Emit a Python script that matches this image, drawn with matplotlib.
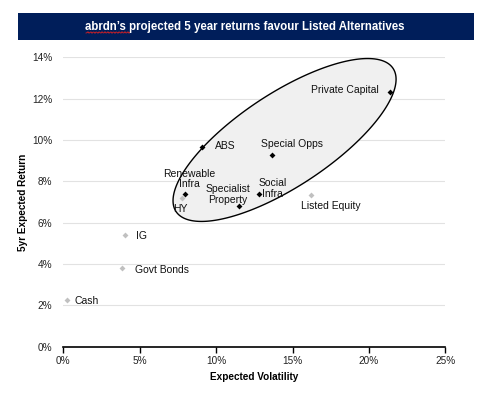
import numpy as np
import matplotlib.pyplot as plt
from matplotlib.patches import Rectangle

plt.rcParams['font.family'] = ['Liberation Sans', 'DejaVu Sans']

# ---------------------------------------------------------------------------
# data (percent)
# ---------------------------------------------------------------------------
names = ['Cash', 'Govt Bonds', 'IG', 'HY', 'Renewable\nInfra', 'Specialist\nProperty',
         'Social\nInfra', 'Listed Equity', 'Special Opps', 'ABS', 'Private Capital']
volatility = [0.22, 3.82, 4.04, 7.75, 7.96, 11.48, 12.81, 16.20, 13.66, 9.06, 21.38]
ret = [2.26, 3.81, 5.42, 7.21, 7.40, 6.81, 7.40, 7.36, 9.27, 9.65, 12.32]
listed_alt = [False, False, False, False, True, True, True, False, True, True, True]

x_ticks = [0, 5, 10, 15, 20, 25]
y_ticks = [0, 2, 4, 6, 8, 10, 12, 14]

# label placement: offset in pixels, alignment
label_pos = {
    'Cash': ((7.6, -1), 'left'),
    'Govt Bonds': ((13.3, -1.7), 'left'),
    'IG': ((11, -1.3), 'left'),
    'HY': ((-1.7, -11.3), 'center'),
    'Renewable\nInfra': ((4.5, 14.8), 'center'),
    'Specialist\nProperty': ((-11, 11.5), 'center'),
    'Social\nInfra': ((13.5, 5.2), 'center'),
    'Listed Equity': ((20, -11), 'center'),
    'Special Opps': ((20.3, 11), 'center'),
    'ABS': ((13.6, 1.6), 'left'),
    'Private Capital': ((-11, 2.3), 'right'),
}

# =============================================================================
# figure
# =============================================================================
W, H, DPI = 490, 396, 100
fig = plt.figure(figsize=(W / DPI, H / DPI), dpi=DPI)
ax = fig.add_axes([63.3 / W, 1 - 346.7 / H, 382 / W, 289.4 / H])

ax.set_xlim(0, 25)
ax.set_ylim(0, 14)
ax.set_xticks(x_ticks)
ax.set_yticks(y_ticks)
ax.set_xticklabels([f'{t}%' for t in x_ticks])
ax.set_yticklabels([f'{t}%' for t in y_ticks])
ax.tick_params(axis='x', length=4, width=1, color='black', labelsize=7.2, labelcolor='#222222', pad=3)
ax.tick_params(axis='y', length=0, labelsize=7.2, labelcolor='#222222', pad=8)
ax.grid(axis='y', color='#e2e2e2', lw=0.8, zorder=0)
for s in ['top', 'right', 'left']:
    ax.spines[s].set_visible(False)
ax.spines['bottom'].set_linewidth(1.2)

ax.set_xlabel('Expected Volatility', fontsize=7.2, fontweight='bold', labelpad=4)
ax.set_ylabel('5yr Expected Return', fontsize=7.2, fontweight='bold', labelpad=3)

# ellipse around listed alternatives (built in pixel space, mapped to data)
px_x, px_y = 382 / 25, 289.4 / 14
cx, cy = 14.48, 10.0
a, b, theta = 130, 46.6, np.radians(33.4)
t = np.linspace(0, 2 * np.pi, 300)
ex = cx + (a * np.cos(t) * np.cos(theta) - b * np.sin(t) * np.sin(theta)) / px_x
ey = cy + (a * np.cos(t) * np.sin(theta) + b * np.sin(t) * np.cos(theta)) / px_y
ax.fill(ex, ey, facecolor='#f0f0f0', edgecolor='black', lw=1, zorder=2, clip_on=False)

# points
for n, xv, yv, alt in zip(names, volatility, ret, listed_alt):
    ax.scatter(xv, yv, marker='D', s=9, color='black' if alt else '#c0c0c0',
               zorder=4, linewidths=0)
    (dx, dy), ha = label_pos[n]
    ax.annotate(n, (xv, yv), xytext=(dx, dy), textcoords='offset pixels',
                ha=ha, va='center', fontsize=7.5, color='#111111',
                linespacing=1.1, zorder=5)

# title banner
fig.patches.append(Rectangle((18 / W, 1 - 40 / H), 456 / W, 27 / H,
                             transform=fig.transFigure, facecolor='#001e5a',
                             edgecolor='none'))
fig.text(245 / W, 1 - 27 / H, "abrdn\u2019s projected 5 year returns favour Listed Alternatives",
         ha='center', va='center', color='white', fontsize=8.3, fontweight='bold')

# spell-check squiggle under "abrdn's"
sx = np.linspace(86, 130, 45)
sy = 32.5 + 0.8 * np.sin(sx * 2.2)
fig.add_artist(plt.Line2D(sx / W, 1 - sy / H, color='#e02020', lw=0.6,
                          transform=fig.transFigure))

plt.savefig('out.png', dpi=DPI)
